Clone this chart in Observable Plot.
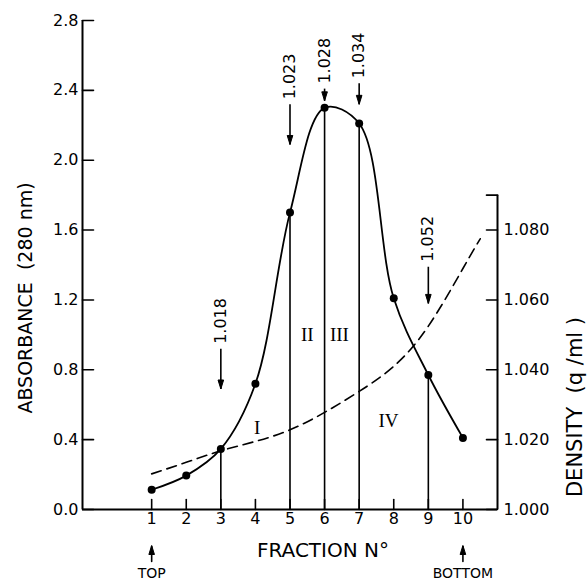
<!DOCTYPE html>
<html><head><meta charset="utf-8">
<script src="https://cdn.jsdelivr.net/npm/d3@7"></script>
<script src="https://cdn.jsdelivr.net/npm/@observablehq/plot@0.6"></script>
<style>body{margin:0;background:#fff}</style>
</head><body><div id="chart"></div>
<script>
const fractions = [1,2,3,4,5,6,7,8,9,10];
const absorbance = [0.113,0.194,0.347,0.72,1.70,2.30,2.21,1.21,0.77,0.41];
const densityX = [1,2,3,4,5,6,7,8,9,10,10.5];
const density = [1.0102,1.0135,1.0168,1.0195,1.0228,1.0278,1.0338,1.041,1.0525,1.069,1.0775];
const cutFractions = [3,5,6,7,9];
const cutLabels = ["1.018","1.023","1.028","1.034","1.052"];
const cutArrowTail = [0.92,2.32,2.41,2.44,1.39];
const cutArrowTip = [0.69,2.09,2.34,2.32,1.18];
const regionLabels = ["I","II","III","IV"];
const regionX = [4.05,5.5,6.43,7.85];
const regionY = [0.47,1.0,1.0,0.51];
const absTicks = [0,0.4,0.8,1.2,1.6,2.0,2.4,2.8];
const densityTicks = [1.000,1.020,1.040,1.060,1.080];
const densityTop = 1.090;
const xTicks = [1,2,3,4,5,6,7,8,9,10];
const xDomain = [-1, 11];
const endLabels = ["TOP","BOTTOM"];
const endFractions = [1,10];

const toAbs = d => (d - 1) * 20;
const idx = n => d3.range(n);
const tickShape = {draw(ctx, l){ ctx.moveTo(0,0); ctx.lineTo(0,-l); }};
const headDown = {draw(ctx){ ctx.moveTo(0,0); ctx.lineTo(-2.8,-9); ctx.lineTo(2.8,-9); ctx.closePath(); }};
const headUp = {draw(ctx){ ctx.moveTo(0,0); ctx.lineTo(-2.8,9); ctx.lineTo(2.8,9); ctx.closePath(); }};

const chart = Plot.plot({
  width: 587, height: 583,
  marginLeft: 82, marginRight: 90, marginTop: 20, marginBottom: 74,
  x: {domain: xDomain},
  y: {domain: [0, 2.8]},
  style: {fontFamily: "DejaVu Sans", fontSize: "16px", color: "black", background: "white", overflow: "visible"},
  marks: [
    Plot.ruleX([xDomain[0]], {y1: 0, y2: absTicks[absTicks.length-1], strokeWidth: 2}),
    Plot.ruleX([xDomain[1]], {y1: 0, y2: toAbs(densityTop), strokeWidth: 2}),
    Plot.ruleY([0], {x1: xDomain[0], x2: xDomain[1], strokeWidth: 2}),
    Plot.vector(absTicks, {x: xDomain[0], y: d => d, length: 11, rotate: 90, anchor: "start", shape: tickShape, strokeWidth: 1.6}),
    Plot.vector([...densityTicks, densityTop], {x: xDomain[1], y: d => toAbs(d), length: 11, rotate: -90, anchor: "start", shape: tickShape, strokeWidth: 1.6}),
    Plot.vector(xTicks, {x: d => d, y: 0, length: 10, rotate: 0, anchor: "start", shape: tickShape, strokeWidth: 1.6}),
    Plot.axisY({ticks: absTicks, anchor: "left", tickSize: 0, tickPadding: 4, tickFormat: d => d.toFixed(1), fontSize: 16, label: null}),
    Plot.axisY({ticks: densityTicks.map(toAbs), anchor: "right", tickSize: 0, tickPadding: 6, tickFormat: d => (1 + d / 20).toFixed(3), fontSize: 16, label: null}),
    Plot.axisX({ticks: xTicks, tickSize: 0, tickPadding: 3, fontSize: 16, label: null}),
    Plot.text(["ABSORBANCE  (280 nm)"], {frameAnchor: "left", textAnchor: "middle", lineAnchor: "middle", dx: -57, dy: 33, rotate: -90, fontSize: 19}),
    Plot.text(["DENSITY  (q /ml )"], {frameAnchor: "right", textAnchor: "middle", lineAnchor: "middle", dx: 78, dy: 142, rotate: -90, fontSize: 21}),
    Plot.text(["FRACTION N°"], {frameAnchor: "bottom", textAnchor: "middle", lineAnchor: "middle", dx: 33, dy: 41, fontSize: 20}),
    Plot.vector(idx(2), {x: i => endFractions[i], y: 0, length: 15, rotate: 0, anchor: "start", dy: 52, shape: tickShape, strokeWidth: 1.6}),
    Plot.dot(idx(2), {x: i => endFractions[i], y: 0, dy: 36, symbol: headUp, fill: "black", stroke: "black", strokeWidth: 1}),
    Plot.text(idx(2), {x: i => endFractions[i], y: 0, dy: 64, text: i => endLabels[i], fontSize: 14}),
    Plot.ruleX(cutFractions, {x: d => d, y1: 0, y2: d => absorbance[fractions.indexOf(d)], strokeWidth: 1.6}),
    Plot.line(idx(densityX.length), {x: i => densityX[i], y: i => toAbs(density[i]), curve: "natural", strokeDasharray: "10,6", strokeWidth: 1.6}),
    Plot.line(idx(fractions.length), {x: i => fractions[i], y: i => absorbance[i], curve: "catmull-rom", strokeWidth: 1.8}),
    Plot.dot(idx(fractions.length), {x: i => fractions[i], y: i => absorbance[i], r: 4, fill: "black"}),
    Plot.link(idx(cutFractions.length), {x1: i => cutFractions[i], x2: i => cutFractions[i], y1: i => cutArrowTail[i], y2: i => cutArrowTip[i], strokeWidth: 1.6}),
    Plot.dot(idx(cutFractions.length), {x: i => cutFractions[i], y: i => cutArrowTip[i], symbol: headDown, fill: "black", stroke: "black", strokeWidth: 1}),
    Plot.text(idx(cutFractions.length), {x: i => cutFractions[i], y: i => cutArrowTail[i], text: i => cutLabels[i], rotate: -90, textAnchor: "start", dy: -5, fontSize: 16}),
    Plot.text(idx(regionLabels.length), {x: i => regionX[i], y: i => regionY[i], text: i => regionLabels[i], fontFamily: "Liberation Serif", fontSize: 19})
  ]
});
document.getElementById("chart").appendChild(chart);
</script>
</body></html>
